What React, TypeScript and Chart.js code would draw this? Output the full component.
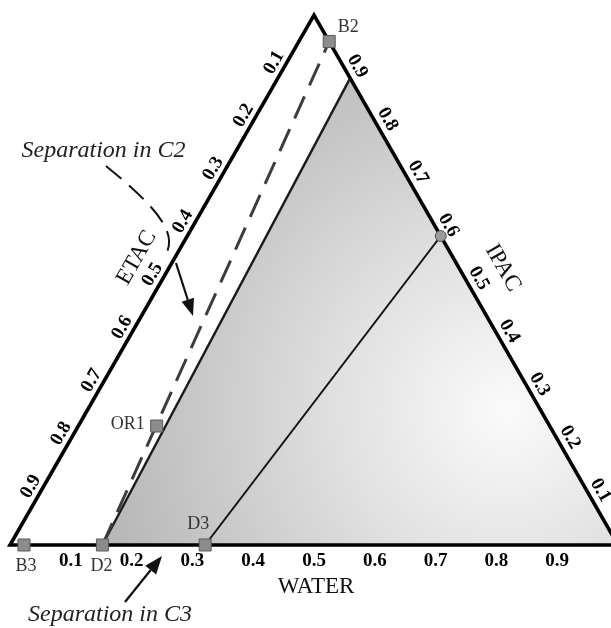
import { useEffect, useRef } from "react";
import { Chart, registerables } from "chart.js";

Chart.register(...registerables);

const WIDTH = 611;
const HEIGHT = 628;
const SERIF = "'Liberation Serif', 'Times New Roman', serif";

// Stream compositions as mole fractions; ETAC = 1 - WATER - IPAC
const streamNames = ["B2", "B3", "D2", "D3", "OR1"];
const streamWater = [0.05, 0.023, 0.152, 0.321, 0.129];
const streamIpac = [0.95, 0, 0, 0, 0.2245];

// Pinch composition on the ETAC-free edge
const pinchWater = [0.417];
const pinchIpac = [0.583];

// Shaded region: D2, up the distillation boundary, down the IPAC–WATER edge
const regionWater = [0.152, 0.119, 1, 0.152];
const regionIpac = [0, 0.881, 0, 0];

// Distillation boundary starting at D2
const boundaryWater = [0.152, 0.119];
const boundaryIpac = [0, 0.881];

// Line from D3 to the pinch composition
const tieWater = [0.321, 0.417];
const tieIpac = [0, 0.583];

// Column C2 profile from D2 to B2
const c2Water = [0.152, 0.05];
const c2Ipac = [0, 0.95];

// Triangle corners: pure ETAC, pure WATER, pure IPAC (repeated to close the outline)
const cornerWater = [0, 1, 0, 0, 1];
const cornerIpac = [0, 0, 1, 0, 0];

const tickValues = [0.1, 0.2, 0.3, 0.4, 0.5, 0.6, 0.7, 0.8, 0.9];
const tickLabels = ["0.1", "0.2", "0.3", "0.4", "0.5", "0.6", "0.7", "0.8", "0.9"];

// Annotation anchors in the plot frame (x = WATER + IPAC/2, y = IPAC)
const c2TextAt = { x: 0.1538, y: 0.7321 };
const c2Leader = [
  { x: 0.1579, y: 0.7151 },
  { x: 0.222, y: 0.6547 },
  { x: 0.2763, y: 0.5981 },
  { x: 0.2582, y: 0.5528 },
];
const c2Arrow = [
  { x: 0.273, y: 0.5321 },
  { x: 0.301, y: 0.4321 },
];
const c3TextAt = { x: 0.1645, y: -0.1434 };
const c3Arrow = [
  { x: 0.1891, y: -0.1075 },
  { x: 0.25, y: -0.0208 },
];
const gradientCenter = { x: 0.8174, y: 0.2547 };

// Pixel offsets of the stream labels from their markers
const streamLabelOffsets = [
  [19, -14],
  [2, 21],
  [-1, 21],
  [-7, -21],
  [-29, -2],
];

const toPoints = (water: number[], ipac: number[]) =>
  water.map((w, k) => ({ x: w + ipac[k] / 2, y: ipac[k] }));

type Pt = { x: number; y: number };

function drawText(
  ctx: CanvasRenderingContext2D,
  text: string,
  x: number,
  y: number,
  angle: number,
  font: string,
  color: string,
  baseline: CanvasTextBaseline = "middle"
) {
  ctx.save();
  ctx.translate(x, y);
  ctx.rotate(angle);
  ctx.font = font;
  ctx.fillStyle = color;
  ctx.textAlign = "center";
  ctx.textBaseline = baseline;
  ctx.fillText(text, 0, 0);
  ctx.restore();
}

function drawArrow(ctx: CanvasRenderingContext2D, a: Pt, b: Pt, headLen: number, headHalf: number) {
  const dx = b.x - a.x;
  const dy = b.y - a.y;
  const len = Math.hypot(dx, dy);
  const ux = dx / len;
  const uy = dy / len;
  const bx = b.x - ux * headLen;
  const by = b.y - uy * headLen;
  ctx.save();
  ctx.strokeStyle = "#111";
  ctx.fillStyle = "#111";
  ctx.lineWidth = 2.2;
  ctx.beginPath();
  ctx.moveTo(a.x, a.y);
  ctx.lineTo(bx, by);
  ctx.stroke();
  ctx.beginPath();
  ctx.moveTo(b.x, b.y);
  ctx.lineTo(bx - uy * headHalf, by + ux * headHalf);
  ctx.lineTo(bx + uy * headHalf, by - ux * headHalf);
  ctx.closePath();
  ctx.fill();
  ctx.restore();
}

const ternaryLabels = {
  id: "ternaryLabels",
  afterDatasetsDraw(chart: any) {
    const { ctx } = chart;
    const xs = chart.scales.x;
    const ys = chart.scales.y;
    const Q = (p: Pt): Pt => ({ x: xs.getPixelForValue(p.x), y: ys.getPixelForValue(p.y) });
    const P = (w: number, i: number): Pt => Q({ x: w + i / 2, y: i });

    const A = P(0, 0);
    const B = P(1, 0);
    const C = P(0, 1);
    const unit = (p: Pt, q: Pt) => {
      const l = Math.hypot(q.x - p.x, q.y - p.y);
      return { x: (q.x - p.x) / l, y: (q.y - p.y) / l };
    };
    const leftDir = unit(A, C);
    const rightDir = unit(C, B);
    const leftNormal = { x: leftDir.y, y: -leftDir.x };
    const rightNormal = { x: rightDir.y, y: -rightDir.x };
    const leftAngle = Math.atan2(leftDir.y, leftDir.x);
    const rightAngle = Math.atan2(rightDir.y, rightDir.x);

    const tickFont = `bold 19px ${SERIF}`;
    tickValues.forEach((v, k) => {
      // WATER along the base
      const b = P(v, 0);
      drawText(ctx, tickLabels[k], b.x, b.y + 16.5, 0, tickFont, "#000");
      // ETAC along the left edge (ETAC = v, WATER = 0)
      const l = P(0, 1 - v);
      drawText(ctx, tickLabels[k], l.x + leftNormal.x * 11, l.y + leftNormal.y * 11, leftAngle, tickFont, "#000");
      // IPAC along the right edge (IPAC = v, ETAC = 0)
      const r = P(1 - v, v);
      drawText(
        ctx,
        tickLabels[k],
        r.x + rightNormal.x * 12 + rightDir.x * 5,
        r.y + rightNormal.y * 12 + rightDir.y * 5,
        rightAngle,
        tickFont,
        "#000"
      );
    });

    const titleFont = `23px ${SERIF}`;
    const wt = P(0.5, 0);
    drawText(ctx, "WATER", wt.x + 2, wt.y + 42, 0, titleFont, "#111");
    const et = P(0, 0.511);
    drawText(ctx, "ETAC", et.x + leftNormal.x * 33, et.y + leftNormal.y * 33, leftAngle, titleFont, "#111");
    const it = P(0.513, 0.487);
    drawText(ctx, "IPAC", it.x + rightNormal.x * 38, it.y + rightNormal.y * 38, rightAngle, titleFont, "#111");

    // Stream labels
    const nameFont = `18px ${SERIF}`;
    streamNames.forEach((name, k) => {
      const p = P(streamWater[k], streamIpac[k]);
      const [ox, oy] = streamLabelOffsets[k];
      drawText(ctx, name, p.x + ox, p.y + oy, 0, nameFont, "#333");
    });

    // Annotations
    const noteFont = `italic 24px ${SERIF}`;
    const t2 = Q(c2TextAt);
    drawText(ctx, "Separation in C2", t2.x, t2.y, 0, noteFont, "#222", "alphabetic");
    const t3 = Q(c3TextAt);
    drawText(ctx, "Separation in C3", t3.x, t3.y, 0, noteFont, "#222", "alphabetic");

    const [s0, s1, s2, s3] = c2Leader.map(Q);
    ctx.save();
    ctx.strokeStyle = "#111";
    ctx.lineWidth = 2;
    ctx.setLineDash([20, 10]);
    ctx.beginPath();
    ctx.moveTo(s0.x, s0.y);
    ctx.bezierCurveTo(s1.x, s1.y, s2.x, s2.y, s3.x, s3.y);
    ctx.stroke();
    ctx.restore();

    drawArrow(ctx, Q(c2Arrow[0]), Q(c2Arrow[1]), 17, 6.5);
    drawArrow(ctx, Q(c3Arrow[0]), Q(c3Arrow[1]), 18, 7);
  },
};

export default function App() {
  const canvasRef = useRef<HTMLCanvasElement>(null);

  useEffect(() => {
    document.body.style.margin = "0";
    const canvas = canvasRef.current;
    if (!canvas) return;

    // Radial shading of the region, brightest toward the WATER-rich interior
    const shade = (context: any) => {
      const chart = context.chart;
      const xs = chart.scales && chart.scales.x;
      const ys = chart.scales && chart.scales.y;
      if (!xs || !ys) return "#d8d8d8";
      const cx = xs.getPixelForValue(gradientCenter.x);
      const cy = ys.getPixelForValue(gradientCenter.y);
      if (!Number.isFinite(cx) || !Number.isFinite(cy)) return "#d8d8d8";
      const g = chart.ctx.createRadialGradient(cx, cy, 0, cx, cy, 400);
      g.addColorStop(0, "#fbfbfb");
      g.addColorStop(0.4, "#e2e2e2");
      g.addColorStop(1, "#b9b9b9");
      return g;
    };

    const chart = new Chart(canvas, {
      type: "scatter",
      data: {
        datasets: [
          {
            label: "Streams",
            data: toPoints(streamWater, streamIpac),
            pointStyle: "rect",
            pointRadius: 8.5,
            backgroundColor: "#8c8c8c",
            borderColor: "#5a5a5a",
            borderWidth: 1,
            order: 0,
          },
          {
            label: "Pinch",
            data: toPoints(pinchWater, pinchIpac),
            pointStyle: "circle",
            pointRadius: 5.5,
            backgroundColor: "#9a9a9a",
            borderColor: "#555",
            borderWidth: 1,
            order: 0,
          },
          {
            label: "C2 profile",
            data: toPoints(c2Water, c2Ipac),
            showLine: true,
            borderColor: "#3d3d3d",
            borderWidth: 3,
            borderDash: [24, 12],
            pointRadius: 0,
            order: 1,
          },
          {
            label: "Tie line",
            data: toPoints(tieWater, tieIpac),
            showLine: true,
            borderColor: "#111",
            borderWidth: 2,
            pointRadius: 0,
            order: 2,
          },
          {
            label: "Boundary",
            data: toPoints(boundaryWater, boundaryIpac),
            showLine: true,
            borderColor: "#1a1a1a",
            borderWidth: 2.4,
            pointRadius: 0,
            order: 2,
          },
          {
            label: "Frame",
            data: toPoints(cornerWater, cornerIpac),
            showLine: true,
            borderColor: "#000",
            borderWidth: 3.6,
            borderJoinStyle: "miter",
            pointRadius: 0,
            order: 3,
          },
          {
            label: "Region",
            data: toPoints(regionWater, regionIpac),
            showLine: true,
            fill: "shape",
            backgroundColor: shade,
            borderWidth: 0,
            pointRadius: 0,
            order: 4,
          },
        ],
      },
      options: {
        responsive: false,
        animation: false,
        events: [],
        layout: { padding: 0, autoPadding: false },
        scales: {
          x: { type: "linear", min: -10 / 608, max: 601 / 608, display: false },
          y: { type: "linear", min: -83 / 530, max: 545 / 530, display: false },
        },
        plugins: {
          legend: { display: false },
          tooltip: { enabled: false },
        },
      },
      plugins: [ternaryLabels],
    } as any);

    return () => chart.destroy();
  }, []);

  return (
    <div style={{ width: WIDTH, height: HEIGHT, background: "#fff" }}>
      <canvas ref={canvasRef} width={WIDTH} height={HEIGHT} style={{ display: "block" }} />
    </div>
  );
}
